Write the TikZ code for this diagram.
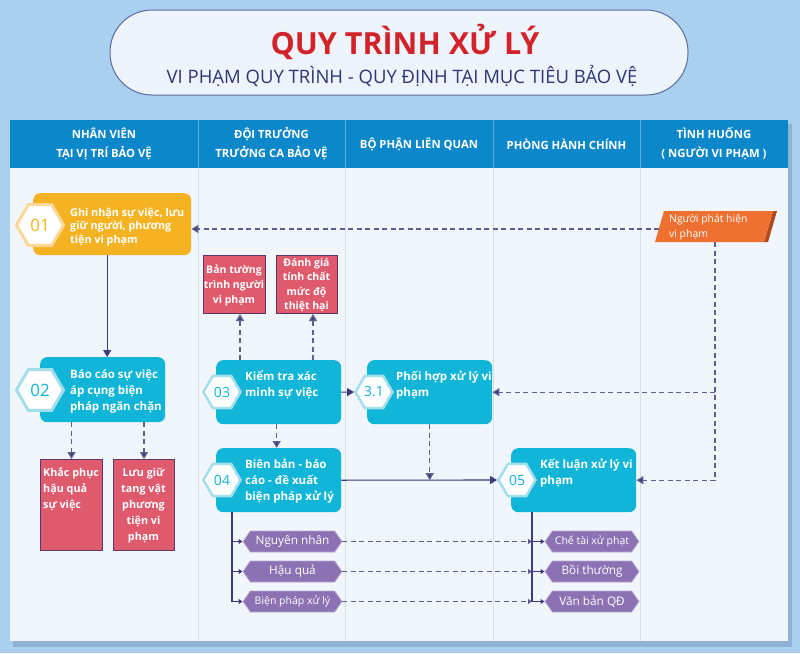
\documentclass[tikz,border=0pt]{standalone}
\usepackage{fontspec}
\usepackage{graphicx}
\setmainfont{Open Sans}
\usetikzlibrary{shapes.geometric,shapes.symbols,arrows.meta,calc}
\definecolor{bg}{HTML}{A9D1EF}
\definecolor{shadowc}{HTML}{8EB2D3}
\definecolor{pillfill}{HTML}{EEF4FB}
\definecolor{pilldraw}{HTML}{5D6B9E}
\definecolor{titlered}{HTML}{D2232A}
\definecolor{subblue}{HTML}{2F3576}
\definecolor{headblue}{HTML}{0B87CA}
\definecolor{headline}{HTML}{5AAEDD}
\definecolor{bodyfill}{HTML}{F1F6FC}
\definecolor{gridline}{HTML}{D6DEE9}
\definecolor{yel}{HTML}{F5B324}
\definecolor{yelpale}{HTML}{F9D995}
\definecolor{boxcyan}{HTML}{10B5D8}
\definecolor{cyanpale}{HTML}{A3DEEC}
\definecolor{redfill}{HTML}{E05A6D}
\definecolor{redline}{HTML}{5A3570}
\definecolor{orangefill}{HTML}{EE7131}
\definecolor{orangedark}{HTML}{B04A1C}
\definecolor{purplefill}{HTML}{8C71B3}
\definecolor{purpleline}{HTML}{B9A8D4}
\definecolor{arrowc}{HTML}{3C3A7C}
\definecolor{dashc}{HTML}{5F5F90}
\definecolor{hexshade}{HTML}{E9ECEF}
\tikzset{
  stepbox/.style={rounded corners=7pt, inner sep=0pt, draw=none, anchor=north west},
  hexbig/.style={regular polygon, regular polygon sides=6, minimum size=47pt, fill=white, line width=3pt, inner sep=0pt, font=\fontsize{17}{17}\selectfont},
  hexsmall/.style={regular polygon, regular polygon sides=6, minimum size=37pt, fill=white, line width=2.5pt, inner sep=0pt, font=\fontsize{14}{14}\selectfont},
  boxtext/.style={anchor=west, align=left, text=white, inner sep=0pt, font=\fontsize{11.5}{16}\selectfont\bfseries},
  redbox/.style={fill=redfill, draw=redline, line width=1pt, inner sep=0pt, anchor=north west},
  redtext/.style={text=white, inner sep=0pt, align=center, font=\fontsize{10.8}{16}\selectfont\bfseries},
  tag/.style={signal, signal to=west and east, signal pointer angle=110, fill=purplefill, draw=purpleline, line width=0.8pt, minimum width=99pt, minimum height=21pt, inner sep=0pt, text=white},
  headtext/.style={text=white, align=center, inner sep=0pt, font=\fontsize{11.3}{19}\selectfont\bfseries},
  solidarrow/.style={draw=arrowc, line width=1.1pt, -{Triangle[length=7pt,width=8pt]}},
  dasharrow/.style={draw=dashc, line width=1.3pt, dash pattern=on 5pt off 3.5pt, -{Triangle[length=7pt,width=8pt,fill=arrowc]}},
  plainline/.style={draw=arrowc, line width=1.1pt},
  smallarrow/.style={draw=arrowc, line width=1pt, -{Triangle[length=4pt,width=5pt]}},
  dashsmall/.style={draw=dashc, line width=1.2pt, dash pattern=on 5pt off 3.5pt, -{Triangle[length=4pt,width=5pt,fill=arrowc]}},
}
\begin{document}
\begin{tikzpicture}[x=1pt,y=-1pt]
\useasboundingbox (0,0) rectangle (800,653);
\fill[bg] (0,0) rectangle (800,653);
% title pill
\node[draw=pilldraw, fill=pillfill, rounded corners=42pt, minimum width=578pt, minimum height=85pt, line width=1pt, inner sep=0pt] (pill) at (399,52.5) {};
\node[text=titlered, inner sep=0pt, font=\fontsize{30.5}{32}\selectfont\bfseries] (title) at (405,42) {QUY TRÌNH XỬ LÝ};
\node[text=subblue, inner sep=0pt, font=\fontsize{18.5}{20}\selectfont] (subtitle) at (402,76) {VI PHẠM QUY TRÌNH - QUY ĐỊNH TẠI MỤC TIÊU BẢO VỆ};
% table
\fill[shadowc] (13,124) rectangle (792,647);
\fill[bodyfill] (10,168) rectangle (788,641);
\fill[headblue] (10,120) rectangle (788,168);
\foreach \xx in {198,345,493,640} {
  \draw[headline, line width=1pt] (\xx,120) -- (\xx,168);
  \draw[gridline, line width=1pt] (\xx,168) -- (\xx,641);
}
\node[headtext] (h1) at (104,144) {NHÂN VIÊN\\TẠI VỊ TRÍ BẢO VỆ};
\node[headtext] (h2) at (271.5,144) {ĐỘI TRƯỞNG\\TRƯỞNG CA BẢO VỆ};
\node[headtext] (h3) at (419,144) {BỘ PHẬN LIÊN QUAN};
\node[headtext] (h4) at (566.5,144) {PHÒNG HÀNH CHÍNH};
\node[headtext] (h5) at (714,144) {TÌNH HUỐNG\\( NGƯỜI VI PHẠM )};
% box 01
\node[stepbox, fill=yel, minimum width=158pt, minimum height=62pt] (b01) at (33,193) {};
\node[hexbig, draw=yelpale, text=yel] (x01) at (40,225) {01};
\node[boxtext, font=\fontsize{10.8}{13.5}\selectfont\bfseries] (t01) at (70,227) {Ghi nhận sự việc, lưu\\giữ người, phương\\tiện vi phạm};
% box 02
\node[stepbox, fill=boxcyan, minimum width=125pt, minimum height=65pt] (b02) at (40,357) {};
\node[hexbig, draw=cyanpale, text=boxcyan] (x02) at (40,390) {02};
\node[boxtext] (t02) at (70,391) {Báo cáo sự việc\\áp cụng biện\\pháp ngăn chặn};
% red boxes under 02
\node[redbox, minimum width=62pt, minimum height=91pt] (r1) at (40,459) {};
\node[redtext, anchor=west, align=left] (r1t) at (43,489) {Khắc phục\\hậu quả\\sự việc};
\node[redbox, minimum width=61pt, minimum height=91pt] (r2) at (113,459) {};
\node[redtext] (r2t) at (143.5,505.5) {Lưu giữ\\tang vật\\phương\\tiện vi\\phạm};
% box 03
\node[stepbox, fill=boxcyan, minimum width=125pt, minimum height=64pt] (b03) at (216,360) {};
\node[hexsmall, draw=cyanpale, text=boxcyan] (x03) at (222,392) {03};
\node[boxtext] (t03) at (245,385) {Kiểm tra xác\\minh sự việc};
% red boxes above 03
\node[redbox, minimum width=62pt, minimum height=58pt] (r3) at (203,255) {};
\node[redtext, font=\fontsize{10.5}{15}\selectfont\bfseries] (r3t) at (234,285) {Bản tường\\trình người\\vi phạm};
\node[redbox, minimum width=61pt, minimum height=58pt] (r4) at (276,255) {};
\node[redtext, font=\fontsize{10.5}{14.5}\selectfont\bfseries] (r4t) at (306.5,285) {Đánh giá\\tính chất\\mức độ\\thiệt hại};
% box 3.1
\node[stepbox, fill=boxcyan, minimum width=125pt, minimum height=64pt] (b31) at (367,360) {};
\node[hexsmall, draw=cyanpale, text=boxcyan] (x31) at (374,392) {3.1};
\node[boxtext] (t31) at (396,385.5) {Phối hợp xử lý vi\\phạm};
% box 04
\node[stepbox, fill=boxcyan, minimum width=125pt, minimum height=64pt] (b04) at (216,448) {};
\node[hexsmall, draw=cyanpale, text=boxcyan] (x04) at (222,480) {04};
\node[boxtext] (t04) at (245,481) {Biên bản - báo\\cáo - đề xuất\\biện pháp xử lý};
% box 05
\node[stepbox, fill=boxcyan, minimum width=125pt, minimum height=64pt] (b05) at (511,448) {};
\node[hexsmall, draw=cyanpale, text=boxcyan] (x05) at (517,480) {05};
\node[boxtext] (t05) at (540,473) {Kết luận xử lý vi\\phạm};
% orange parallelogram
\fill[orangedark] (764,242) -- (773,211) -- (777,211) -- (768,242) -- cycle;
\fill[orangefill] (655,242) -- (664,211) -- (773,211) -- (764,242) -- cycle;
\node[anchor=west, align=left, text=white, inner sep=0pt, font=\fontsize{10.4}{15}\selectfont] (ng) at (669,227) {Người phát hiện\\vi phạm};
\coordinate (ngl) at (659,229);
\coordinate (ngb) at (715,242);
% tags
\node[tag, font=\fontsize{11.8}{12}\selectfont] (L1) at (292.5,541.5) {Nguyên nhân};
\node[tag, font=\fontsize{11.8}{12}\selectfont] (L2) at (292.5,571.5) {Hậu quả};
\node[tag, font=\fontsize{10.5}{12}\selectfont] (L3) at (292.5,601.5) {Biện pháp xử lý};
\node[tag, minimum width=94pt, font=\fontsize{10.5}{12}\selectfont] (R1) at (592,541.5) {Chế tài xử phạt};
\node[tag, minimum width=94pt, font=\fontsize{11.8}{12}\selectfont] (R2) at (592,571.5) {Bồi thường};
\node[tag, minimum width=94pt, font=\fontsize{11.8}{12}\selectfont] (R3) at (592,601.5) {Văn bản QĐ};
% connectors
\draw[solidarrow] ($(b01.south)+(-5,0)$) -- ($(b02.north)+(4.5,0)$);
\draw[dasharrow] (r1.north |- b02.south) -- (r1.north);
\draw[dasharrow] (r2.north |- b02.south) -- (r2.north);
\draw[dasharrow] ($(b03.north west)+(24,0)$) -- ($(r3.south west)+(37,0)$);
\draw[dasharrow] ($(b03.north west)+(97,0)$) -- ($(r4.south west)+(37,0)$);
\draw[solidarrow] (b03.east) -- (x31.west);
\draw[dasharrow] ($(b03.south)+(-2,0)$) -- ($(b04.north)+(-2,0)$);
\draw[solidarrow] (b04.east) -- (x05.west);
\draw[dasharrow] (b31.south) -- (b31.south |- b04.east);
\draw[dasharrow] (ngl) -- (ngl -| b01.east);
\draw[dasharrow] (ngb) |- (b05.east);
\draw[dasharrow] (ngb |- b31.east) -- (b31.east);
\coordinate (lv) at ($(b04.south west)+(16,0)$);
\coordinate (rv) at ($(b05.south west)+(21,0)$);
\draw[plainline] (lv) -- (lv |- L3.west);
\draw[plainline] (rv) -- (rv |- R3.west);
\foreach \n in {1,2,3} {
  \draw[smallarrow] (lv |- L\n.west) -- (L\n.west);
  \draw[dashsmall] (L\n.east) -- (L\n.east -| rv);
  \draw[smallarrow] (rv |- R\n.west) -- (R\n.west);
}
\end{tikzpicture}
\end{document}
